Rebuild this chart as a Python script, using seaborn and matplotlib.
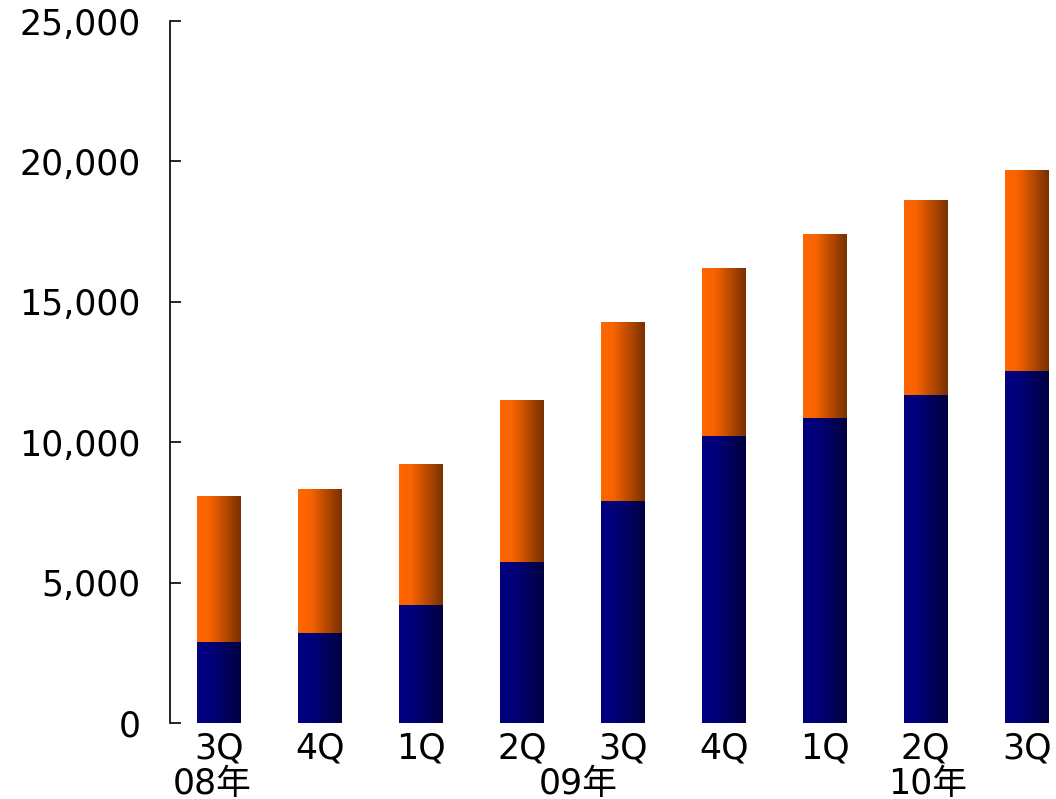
import numpy as np
import pandas as pd
import matplotlib
matplotlib.use("Agg")
import matplotlib.pyplot as plt
from matplotlib.colors import LinearSegmentedColormap
import seaborn as sns

# データ
quarters = ["3Q", "4Q", "1Q", "2Q", "3Q", "4Q", "1Q", "2Q", "3Q"]
lower = [2850, 3200, 4200, 5730, 7900, 10190, 10860, 11650, 12500]
total = [8080, 8300, 9220, 11470, 14280, 16170, 17380, 18590, 19690]
years = ["08年", "09年", "10年"]
year_pos = [-0.07, 3.56, 7.02]
yticks = [0, 5000, 10000, 15000, 20000, 25000]

sns.set_style("white")
plt.rcParams["font.family"] = ["DejaVu Sans", "Noto Sans CJK JP"]
plt.rcParams["text.color"] = "black"
plt.rcParams["xtick.color"] = "black"
plt.rcParams["ytick.color"] = "black"

df = pd.DataFrame({"idx": np.arange(len(quarters)), "lower": lower, "total": total})

fig = plt.figure(figsize=(10.56, 7.99), dpi=100)
ax = fig.add_axes([0.161, 0.0951, 0.839, 0.8786])

# 積み上げ: 合計(オレンジ) -> 下段(紺)
sns.barplot(data=df, x="idx", y="total", color="#FF6600", width=0.435,
            saturation=1, ax=ax)
n = len(ax.patches)
sns.barplot(data=df, x="idx", y="lower", color="#000080", width=0.435,
            saturation=1, ax=ax)

cm_orange = LinearSegmentedColormap.from_list(
    "og", [(0, "#FF6600"), (0.28, "#F86300"), (1, "#783000")])
cm_navy = LinearSegmentedColormap.from_list(
    "nv", [(0, "#000080"), (0.28, "#00007C"), (1, "#000040")])
grad = np.linspace(0, 1, 256).reshape(1, -1)

for i, p in enumerate(ax.patches):
    x, y = p.get_x(), p.get_y()
    w, h = p.get_width(), p.get_height()
    cmap = cm_orange if i < n else cm_navy
    ax.imshow(grad, extent=[x, x + w, y, y + h], aspect="auto", cmap=cmap,
              zorder=2 + (i >= n), interpolation="bilinear")
    p.set_visible(False)

ax.set_xlim(-0.485, 8.29)
ax.set_ylim(0, 25000)
ax.set_yticks(yticks)
ax.set_yticklabels([f"{v:,}" for v in yticks], fontsize=25)
ax.set_xticks(np.arange(len(quarters)))
ax.set_xticklabels(quarters, fontsize=25)
ax.tick_params(axis="y", direction="in", length=8, width=1.2, pad=21, left=True)
ax.tick_params(axis="x", length=0, pad=6)
ax.set_xlabel("")
ax.set_ylabel("")

for s in ["top", "right", "bottom"]:
    ax.spines[s].set_visible(False)
ax.spines["left"].set_color("black")
ax.spines["left"].set_linewidth(1.2)

for lbl, xp in zip(years, year_pos):
    ax.text(xp, -0.0865, lbl, transform=ax.get_xaxis_transform(),
            ha="center", va="center", fontsize=25)

fig.savefig("out.png", dpi=100)
